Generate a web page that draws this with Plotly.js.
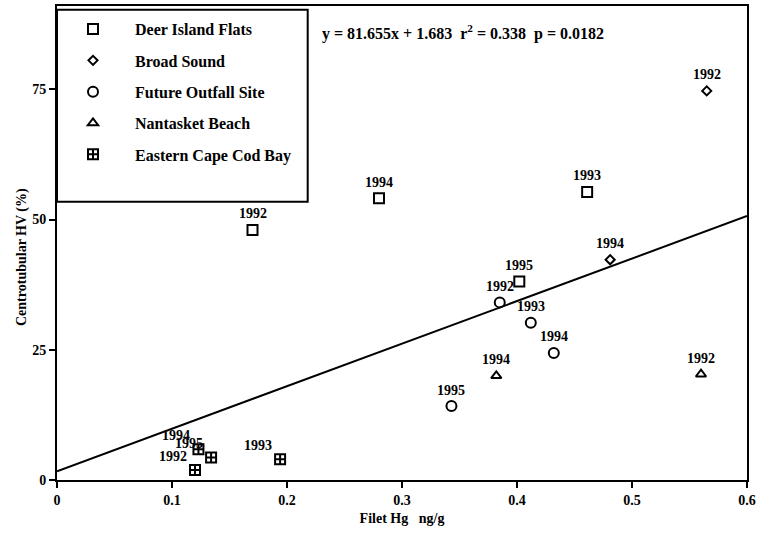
<!DOCTYPE html>
<html><head><meta charset="utf-8">
<script src="https://cdn.plot.ly/plotly-3.0.1.min.js"></script>
<style>html,body{margin:0;padding:0;background:#fff}#chart{width:761px;height:536px}</style>
</head><body><div id="chart"></div>
<script>
// ---- data ----
const siteNames = ['Deer Island Flats', 'Broad Sound', 'Future Outfall Site', 'Nantasket Beach', 'Eastern Cape Cod Bay'];

const deerX = [0.170, 0.280, 0.461, 0.402];
const deerY = [48.0, 54.1, 55.3, 38.1];
const deerYears = ['1992', '1994', '1993', '1995'];

const broadX = [0.565, 0.481];
const broadY = [74.7, 42.3];
const broadYears = ['1992', '1994'];

const outfallX = [0.385, 0.412, 0.432, 0.343];
const outfallY = [34.1, 30.2, 24.4, 14.2];
const outfallYears = ['1992', '1993', '1994', '1995'];

const nantX = [0.382, 0.560];
const nantY = [20.0, 20.3];
const nantYears = ['1994', '1992'];

const capeX = [0.123, 0.134, 0.120, 0.194];
const capeY = [5.9, 4.3, 1.9, 4.0];
const capeYears = ['1994', '1995', '1992', '1993'];

const fitSlope = 81.655, fitIntercept = 1.683;
const fitXRange = [0, 0.6];
const fitText = 'y = 81.655x + 1.683  r<sup>2</sup> = 0.338  p = 0.0182';

const xTicks = [0, 0.1, 0.2, 0.3, 0.4, 0.5, 0.6];
const yTicks = [0, 25, 50, 75];
const xTitle = 'Filet Hg   ng/g';
const yTitle = 'Centrotubular HV (%)';

// ---- chart ----
const FONT = 'Liberation Serif, Times New Roman, serif';
const series = [
  {name: siteNames[0], x: deerX, y: deerY, yrs: deerYears, sym: 'square-open', size: 10, dx: 0, dy: 16},
  {name: siteNames[1], x: broadX, y: broadY, yrs: broadYears, sym: 'diamond-open', size: 7, dx: 0, dy: 16},
  {name: siteNames[2], x: outfallX, y: outfallY, yrs: outfallYears, sym: 'circle-open', size: 10, dx: 0, dy: 16},
  {name: siteNames[3], x: nantX, y: nantY, yrs: nantYears, sym: 'triangle-up-open', size: 9, dx: 0, dy: 16},
  {name: siteNames[4], x: capeX, y: capeY, yrs: capeYears, sym: 'square-cross-open', size: 10, dx: -22, dy: 14}
];

const traces = series.map((s, i) => ({
  type: 'scatter', mode: 'markers', name: s.name, x: s.x, y: s.y,
  legendgroup: 'g' + i,
  marker: {symbol: s.sym, size: s.size, color: '#000', line: {width: 2, color: '#000'}},
  hoverinfo: 'x+y'
}));
traces.push({
  type: 'scatter', mode: 'lines', showlegend: false,
  x: fitXRange, y: fitXRange.map(v => fitSlope * v + fitIntercept),
  line: {color: '#000', width: 2}, hoverinfo: 'skip'
});

const annotations = [];
series.forEach(s => {
  s.x.forEach((xv, j) => {
    annotations.push({x: xv, y: s.y[j], xref: 'x', yref: 'y', text: s.yrs[j], showarrow: false,
      xshift: s.dx, yshift: s.dy, font: {family: FONT, size: 14, color: '#000', weight: 700}});
  });
});
annotations.push({x: (463 - 57) / 690, y: (480 - 33) / 474, xref: 'paper', yref: 'paper',
  yanchor: 'middle', xanchor: 'center', text: fitText,
  showarrow: false, font: {family: FONT, size: 16, color: '#000', weight: 700}});
annotations.push({x: (22 - 57) / 690, y: (480 - 257) / 474, xref: 'paper', yref: 'paper',
  xanchor: 'center', yanchor: 'middle', textangle: -90, text: yTitle, showarrow: false,
  font: {family: FONT, size: 14, color: '#000', weight: 700}});

const layout = {
  width: 761, height: 536,
  margin: {l: 57, r: 14, t: 6, b: 56},
  paper_bgcolor: '#fff', plot_bgcolor: '#fff',
  font: {family: FONT, size: 14, color: '#000', weight: 700},
  showlegend: true,
  legend: {x: (51 - 57) / 690, y: 0.987, xanchor: 'left', yanchor: 'top', bgcolor: 'rgba(0,0,0,0)', borderwidth: 0,
    traceorder: 'grouped', tracegroupgap: 7.5, itemwidth: 74,
    font: {family: FONT, size: 16, color: '#000', weight: 700}},
  xaxis: {range: [0, 0.6], tickvals: xTicks, ticks: 'outside', ticklen: 6, tickwidth: 2, tickcolor: '#000',
    showline: true, linewidth: 2, linecolor: '#000', mirror: true, showgrid: false, zeroline: false,
    tickfont: {family: FONT, size: 14, weight: 700},
    title: {text: xTitle, font: {family: FONT, size: 14, weight: 700}, standoff: 6}},
  yaxis: {range: [0, 91], tickvals: yTicks, ticks: 'outside', ticklen: 6, tickwidth: 2, tickcolor: '#000',
    showline: true, linewidth: 2, linecolor: '#000', mirror: true, showgrid: false, zeroline: false,
    tickfont: {family: FONT, size: 14, weight: 700}},
  shapes: [{type: 'rect', xref: 'x', yref: 'y', x0: 0, x1: 0.218, y0: 53.4, y1: 90.3,
    line: {color: '#000', width: 2}, fillcolor: 'rgba(0,0,0,0)'}],
  annotations: annotations
};

Plotly.newPlot('chart', traces, layout, {displayModeBar: false, staticPlot: true});
</script>
</body></html>
